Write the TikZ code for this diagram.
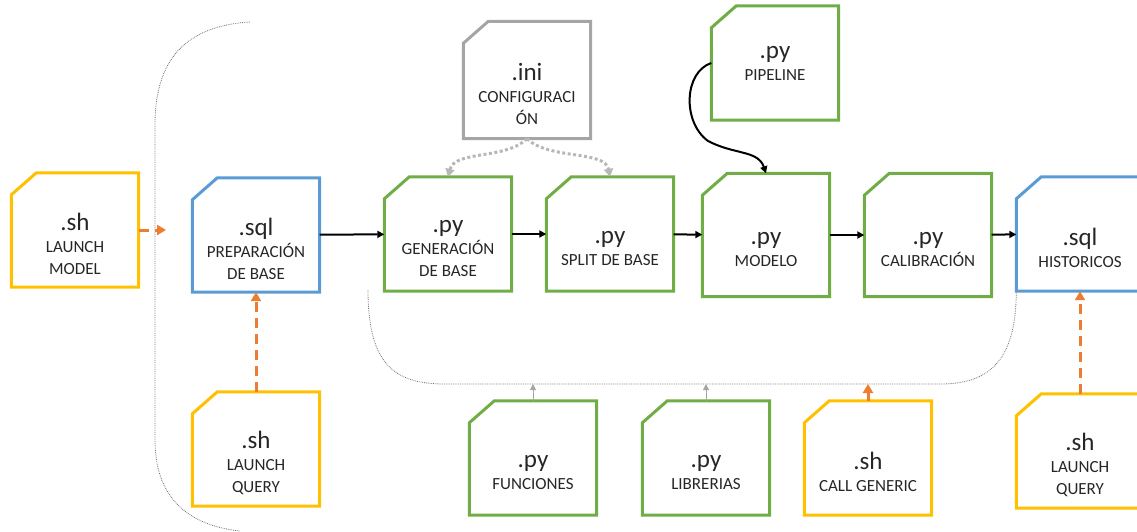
\documentclass[tikz,border=0pt]{standalone}
\usepackage{fontspec}
\setmainfont{Carlito}
\usetikzlibrary{arrows.meta}
\definecolor{shyellow}{HTML}{FFC000}
\definecolor{sqlblue}{HTML}{5B9BD5}
\definecolor{pygreen}{HTML}{70AD47}
\definecolor{inigray}{HTML}{A5A5A5}
\definecolor{shorange}{HTML}{ED7D31}
\newcommand{\fext}[1]{{\fontsize{25}{25}\selectfont #1}}
\tikzset{
  filebox/.style={rectangle, inner sep=0pt, minimum width=127pt, minimum height=114pt,
    append after command={\pgfextra{\draw[draw=#1, line width=3pt]
      ([yshift=-22pt]\tikzlastnode.north west) -- ([xshift=25pt]\tikzlastnode.north west)
      -- (\tikzlastnode.north east) -- (\tikzlastnode.south east)
      -- (\tikzlastnode.south west) -- cycle;}}},
  tallbox/.style={minimum height=123pt},
  ftext/.style={yshift=-14pt, align=center, font=\fontsize{17}{22}\selectfont, text=black!85},
  guide/.style={draw=black!55, densely dotted, line width=0.8pt},
  flowarrow/.style={-{Triangle[length=7pt,width=7pt]}, line width=2pt, black},
  launcharrow/.style={-{Triangle[length=9pt,width=10pt]}, draw=shorange, line width=3pt, dash pattern=on 10pt off 6pt},
  cfgarrow/.style={-{Triangle[length=8pt,width=9pt]}, draw=inigray!80, line width=3pt, dash pattern=on 3pt off 2.5pt},
  libarrow/.style={-{Triangle[length=6pt,width=6pt]}, draw=inigray, line width=1pt}
}
\begin{document}
\begin{tikzpicture}[x=1pt,y=-1pt]
    \useasboundingbox (0,0) rectangle (1137,531);
    % dotted brackets
    \draw[guide] (250,22) .. controls (185,26) and (155,60) .. (155,125) -- (155,440) .. controls (155,495) and (185,525) .. (240,531);
    \coordinate (entry) at (166,230);
    \coordinate (busline) at (0,384);
    % main chain
    \node[filebox=shyellow, label={[ftext]center:{\fext{.sh}\\LAUNCH\\MODEL}}] (lmodel) at (75,230) {};
    \node[filebox=sqlblue, label={[ftext]center:{\fext{.sql}\\PREPARACIÓN\\DE BASE}}] (prep) at (256,235) {};
    \node[filebox=pygreen, label={[ftext]center:{\fext{.py}\\GENERACIÓN\\DE BASE}}] (gen) at (448,234) {};
    \node[filebox=pygreen, label={[ftext]center:{\fext{.py}\\SPLIT DE BASE}}] (split) at (610,234) {};
    \node[filebox=pygreen, tallbox, label={[ftext]center:{\fext{.py}\\MODELO}}] (modelo) at (766,235) {};
    \node[filebox=pygreen, tallbox, label={[ftext]center:{\fext{.py}\\CALIBRACIÓN}}] (calib) at (928,235) {};
    \node[filebox=sqlblue, label={[ftext]center:{\fext{.sql}\\HISTORICOS}}] (hist) at (1080,234) {};
    % top row
    \node[filebox=inigray, minimum height=117pt, label={[ftext]center:{\fext{.ini}\\CONFIGURACI\\ÓN}}] (config) at (527,80) {};
    \node[filebox=pygreen, label={[ftext, yshift=14pt]center:{\fext{.py}\\PIPELINE}}] (pipeline) at (775,63) {};
    % bottom row
    \node[filebox=shyellow, label={[ftext]center:{\fext{.sh}\\LAUNCH\\QUERY}}] (lqleft) at (256,449) {};
    \node[filebox=pygreen, label={[ftext]center:{\fext{.py}\\FUNCIONES}}] (func) at (533,458) {};
    \node[filebox=pygreen, label={[ftext]center:{\fext{.py}\\LIBRERIAS}}] (libr) at (706,458) {};
    \node[filebox=shyellow, label={[ftext]center:{\fext{.sh}\\CALL GENERIC}}] (callg) at (868,458) {};
    \node[filebox=shyellow, label={[ftext]center:{\fext{.sh}\\LAUNCH\\QUERY}}] (lqright) at (1080,451) {};
    \draw[guide] (368,290) .. controls (368,365) and (395,384) .. (445,384) -- (940,384) .. controls (990,384) and (1016,360) .. (hist.south west);
    % connectors
    \draw[flowarrow] (prep) -- (gen);
    \draw[flowarrow] (gen) -- (split);
    \draw[flowarrow] (split) -- (modelo);
    \draw[flowarrow] (modelo) -- (calib);
    \draw[flowarrow] (calib) -- (hist);
    \draw[flowarrow] (pipeline.west) .. controls (684,72) and (682,122) .. (708,141) .. controls (735,155) and (758,150) .. (modelo.north);
    \draw[cfgarrow] (config.south) .. controls (505,160) and (455,150) .. (gen.north);
    \draw[cfgarrow] (config.south) .. controls (549,160) and (605,150) .. (split.north);
    \draw[launcharrow] (lmodel.east) -- (entry);
    \draw[launcharrow] (lqleft) -- (prep);
    \draw[launcharrow] (lqright) -- (hist);
    \draw[libarrow] (func.north) -- (func.north |- busline);
    \draw[libarrow] (libr.north) -- (libr.north |- busline);
    \draw[launcharrow, dash pattern=on 8pt off 4pt] (callg.north) -- (callg.north |- busline);
\end{tikzpicture}
\end{document}
